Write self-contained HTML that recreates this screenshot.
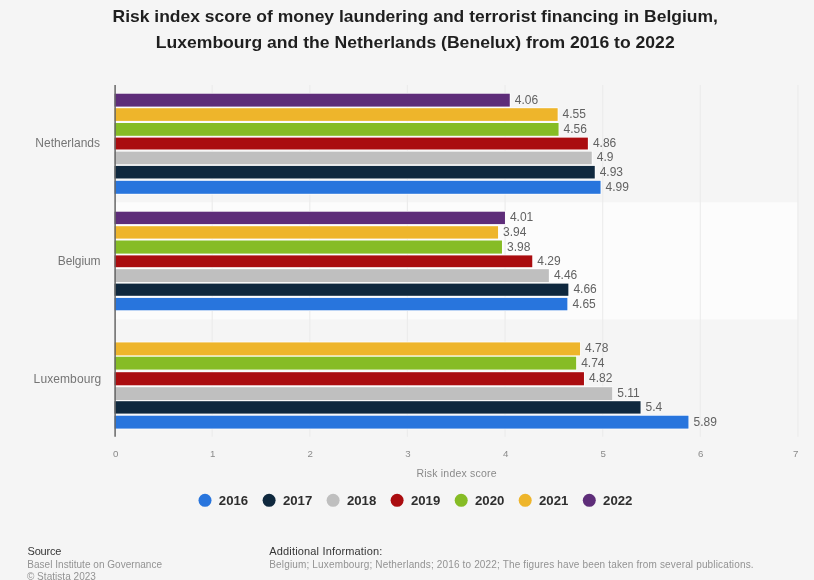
<!DOCTYPE html>
<html lang="en"><head><meta charset="utf-8"><title>Risk index score of money laundering and terrorist financing in Benelux 2016-2022</title>
<style>
html,body{margin:0;padding:0;background:#f5f5f5;}
body{width:814px;height:580px;overflow:hidden;position:relative;font-family:"Liberation Sans",Arial,Helvetica,sans-serif;}
svg{position:absolute;left:0;top:0;display:block;filter:blur(0.45px)}
text{font-family:"Liberation Sans",Arial,Helvetica,sans-serif;}
.ttl{font-size:16.9px;font-weight:bold;fill:#1f1f1f}
.cat{font-size:12px;fill:#757575}
.val{font-size:12px;fill:#626262}
.tick{font-size:9.7px;fill:#8a8a8a}
.axt{font-size:10.5px;fill:#8a8a8a}
.leg{font-size:13.2px;font-weight:bold;fill:#2e2e2e}
.fh{font-size:11px;fill:#363636}
.ft{font-size:10px;fill:#939393}
</style></head><body>
<svg width="814" height="580" viewBox="0 0 814 580">
<rect x="0" y="0" width="814" height="580" fill="#f5f5f5"/>
<rect x="114.57" y="202.2" width="683.3" height="117.3" fill="#fcfcfc"/>
<line x1="212.2" y1="84.9" x2="212.2" y2="436.8" stroke="#ebebeb" stroke-width="1.1"/>
<line x1="309.8" y1="84.9" x2="309.8" y2="436.8" stroke="#ebebeb" stroke-width="1.1"/>
<line x1="407.4" y1="84.9" x2="407.4" y2="436.8" stroke="#ebebeb" stroke-width="1.1"/>
<line x1="505.1" y1="84.9" x2="505.1" y2="436.8" stroke="#ebebeb" stroke-width="1.1"/>
<line x1="602.7" y1="84.9" x2="602.7" y2="436.8" stroke="#ebebeb" stroke-width="1.1"/>
<line x1="700.3" y1="84.9" x2="700.3" y2="436.8" stroke="#ebebeb" stroke-width="1.1"/>
<line x1="797.9" y1="84.9" x2="797.9" y2="436.8" stroke="#ebebeb" stroke-width="1.1"/>
<text class="ttl" x="415.2" y="21.6" text-anchor="middle" textLength="605.4" lengthAdjust="spacingAndGlyphs">Risk index score of money laundering and terrorist financing in Belgium,</text>
<text class="ttl" x="415.2" y="47.9" text-anchor="middle" textLength="519" lengthAdjust="spacingAndGlyphs">Luxembourg and the Netherlands (Benelux) from 2016 to 2022</text>
<text class="cat" x="35.3" y="147.0" textLength="64.7" lengthAdjust="spacing">Netherlands</text>
<rect x="114.57" y="93.0" width="395.9" height="14.3" fill="#ffffff"/>
<rect x="114.57" y="93.7" width="395.2" height="12.9" fill="#5e2d79"/>
<text class="val" x="514.8" y="103.6">4.06</text>
<rect x="114.57" y="107.5" width="443.8" height="14.1" fill="#ffffff"/>
<rect x="114.57" y="108.2" width="443.1" height="12.7" fill="#eeb52b"/>
<text class="val" x="562.6" y="118.0">4.55</text>
<rect x="114.57" y="122.3" width="444.7" height="14.2" fill="#ffffff"/>
<rect x="114.57" y="123.0" width="444.0" height="12.8" fill="#86bc25"/>
<text class="val" x="563.6" y="132.8">4.56</text>
<rect x="114.57" y="136.9" width="474.0" height="13.3" fill="#ffffff"/>
<rect x="114.57" y="137.6" width="473.3" height="11.9" fill="#aa0c0f"/>
<text class="val" x="592.9" y="147.0">4.86</text>
<rect x="114.57" y="150.9" width="477.9" height="14.1" fill="#ffffff"/>
<rect x="114.57" y="151.6" width="477.2" height="12.7" fill="#bfbfbf"/>
<text class="val" x="596.8" y="161.3">4.9</text>
<rect x="114.57" y="165.2" width="480.9" height="14.0" fill="#ffffff"/>
<rect x="114.57" y="165.9" width="480.2" height="12.6" fill="#0f283e"/>
<text class="val" x="599.7" y="175.6">4.93</text>
<rect x="114.57" y="180.1" width="486.7" height="14.4" fill="#ffffff"/>
<rect x="114.57" y="180.8" width="486.0" height="13.0" fill="#2875dd"/>
<text class="val" x="605.6" y="190.7">4.99</text>
<text class="cat" x="57.8" y="264.9" textLength="42.7" lengthAdjust="spacing">Belgium</text>
<rect x="114.57" y="211.0" width="391.1" height="13.8" fill="#ffffff"/>
<rect x="114.57" y="211.7" width="390.4" height="12.4" fill="#5e2d79"/>
<text class="val" x="509.9" y="221.3">4.01</text>
<rect x="114.57" y="225.5" width="384.2" height="13.8" fill="#ffffff"/>
<rect x="114.57" y="226.2" width="383.5" height="12.4" fill="#eeb52b"/>
<text class="val" x="503.1" y="235.8">3.94</text>
<rect x="114.57" y="239.8" width="388.1" height="14.5" fill="#ffffff"/>
<rect x="114.57" y="240.5" width="387.4" height="13.1" fill="#86bc25"/>
<text class="val" x="507.0" y="250.5">3.98</text>
<rect x="114.57" y="254.7" width="418.4" height="13.2" fill="#ffffff"/>
<rect x="114.57" y="255.4" width="417.7" height="11.8" fill="#aa0c0f"/>
<text class="val" x="537.3" y="264.7">4.29</text>
<rect x="114.57" y="268.5" width="435.0" height="14.3" fill="#ffffff"/>
<rect x="114.57" y="269.2" width="434.3" height="12.9" fill="#bfbfbf"/>
<text class="val" x="553.9" y="279.0">4.46</text>
<rect x="114.57" y="282.9" width="454.5" height="13.6" fill="#ffffff"/>
<rect x="114.57" y="283.6" width="453.8" height="12.2" fill="#0f283e"/>
<text class="val" x="573.4" y="293.1">4.66</text>
<rect x="114.57" y="297.2" width="453.5" height="13.8" fill="#ffffff"/>
<rect x="114.57" y="297.9" width="452.8" height="12.4" fill="#2875dd"/>
<text class="val" x="572.4" y="307.5">4.65</text>
<text class="cat" x="33.6" y="383.3" textLength="67.6" lengthAdjust="spacing">Luxembourg</text>
<rect x="114.57" y="341.7" width="466.2" height="14.4" fill="#ffffff"/>
<rect x="114.57" y="342.4" width="465.5" height="13.0" fill="#eeb52b"/>
<text class="val" x="585.1" y="352.3">4.78</text>
<rect x="114.57" y="356.0" width="462.3" height="14.3" fill="#ffffff"/>
<rect x="114.57" y="356.7" width="461.6" height="12.9" fill="#86bc25"/>
<text class="val" x="581.2" y="366.5">4.74</text>
<rect x="114.57" y="371.5" width="470.1" height="14.5" fill="#ffffff"/>
<rect x="114.57" y="372.2" width="469.4" height="13.1" fill="#aa0c0f"/>
<text class="val" x="589.0" y="382.1">4.82</text>
<rect x="114.57" y="386.5" width="498.4" height="14.4" fill="#ffffff"/>
<rect x="114.57" y="387.2" width="497.7" height="13.0" fill="#bfbfbf"/>
<text class="val" x="617.3" y="397.1">5.11</text>
<rect x="114.57" y="400.5" width="526.7" height="13.8" fill="#ffffff"/>
<rect x="114.57" y="401.2" width="526.0" height="12.4" fill="#0f283e"/>
<text class="val" x="645.6" y="410.8">5.4</text>
<rect x="114.57" y="415.0" width="574.6" height="14.3" fill="#ffffff"/>
<rect x="114.57" y="415.7" width="573.9" height="12.9" fill="#2875dd"/>
<text class="val" x="693.5" y="425.5">5.89</text>
<line x1="115.1" y1="84.9" x2="115.1" y2="436.8" stroke="#666666" stroke-width="1.5"/>
<text class="tick" x="115.8" y="456.8" text-anchor="middle">0</text>
<text class="tick" x="212.7" y="456.8" text-anchor="middle">1</text>
<text class="tick" x="310.3" y="456.8" text-anchor="middle">2</text>
<text class="tick" x="407.9" y="456.8" text-anchor="middle">3</text>
<text class="tick" x="505.6" y="456.8" text-anchor="middle">4</text>
<text class="tick" x="603.2" y="456.8" text-anchor="middle">5</text>
<text class="tick" x="700.8" y="456.8" text-anchor="middle">6</text>
<text class="tick" x="798.4" y="456.8" text-anchor="end">7</text>
<text class="axt" x="456.5" y="477.2" text-anchor="middle" textLength="80.2" lengthAdjust="spacing">Risk index score</text>
<circle cx="205.0" cy="500.3" r="6.5" fill="#2875dd"/>
<text class="leg" x="218.8" y="505.4">2016</text>
<circle cx="269.1" cy="500.3" r="6.5" fill="#0f283e"/>
<text class="leg" x="282.9" y="505.4">2017</text>
<circle cx="333.1" cy="500.3" r="6.5" fill="#bfbfbf"/>
<text class="leg" x="346.9" y="505.4">2018</text>
<circle cx="397.1" cy="500.3" r="6.5" fill="#aa0c0f"/>
<text class="leg" x="410.9" y="505.4">2019</text>
<circle cx="461.2" cy="500.3" r="6.5" fill="#86bc25"/>
<text class="leg" x="475.0" y="505.4">2020</text>
<circle cx="525.2" cy="500.3" r="6.5" fill="#eeb52b"/>
<text class="leg" x="539.0" y="505.4">2021</text>
<circle cx="589.3" cy="500.3" r="6.5" fill="#5e2d79"/>
<text class="leg" x="603.1" y="505.4">2022</text>
<text class="fh" x="27.5" y="554.5" textLength="33.8" lengthAdjust="spacing">Source</text>
<text class="ft" x="27.3" y="567.5" textLength="134.7" lengthAdjust="spacing">Basel Institute on Governance</text>
<text class="ft" x="26.9" y="579.9" textLength="69" lengthAdjust="spacing">© Statista 2023</text>
<text class="fh" x="269.3" y="554.7" textLength="113" lengthAdjust="spacing">Additional Information:</text>
<text class="ft" x="269.3" y="567.7" textLength="484.3" lengthAdjust="spacing">Belgium; Luxembourg; Netherlands; 2016 to 2022; The figures have been taken from several publications.</text>
</svg></body></html>
